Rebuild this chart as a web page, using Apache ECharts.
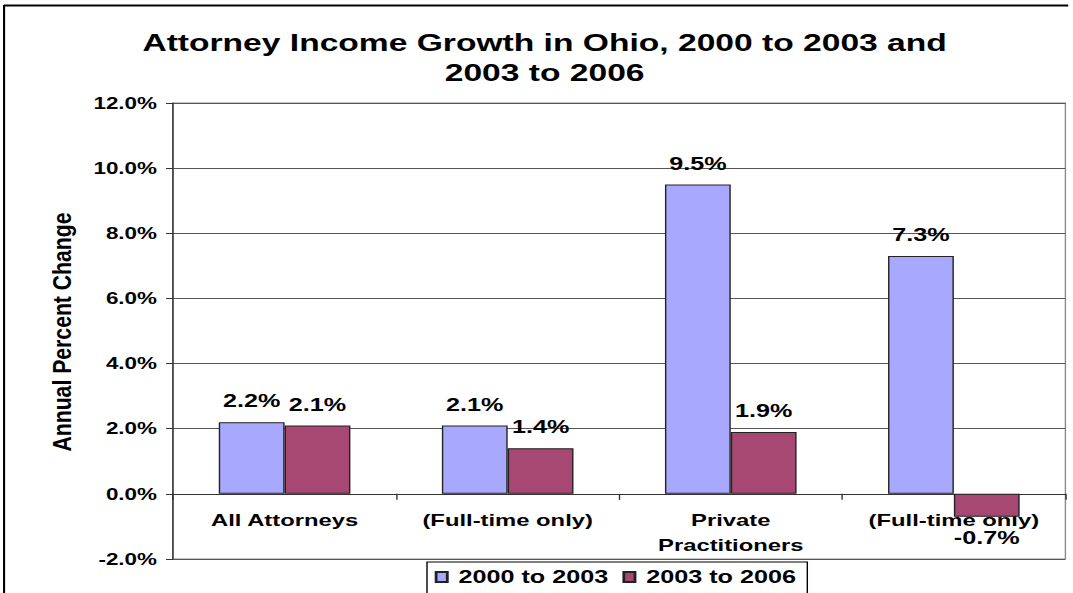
<!DOCTYPE html>
<html>
<head>
<meta charset="utf-8">
<script src="https://cdn.jsdelivr.net/npm/echarts@6/dist/echarts.min.js"></script>
<style>
  html, body { margin: 0; padding: 0; background: #fff; overflow: hidden; }
  /* the chart is laid out narrow and widened horizontally, giving the wide lettering */
  #chart { width: 766.4px; height: 593px; transform: scaleX(1.4); transform-origin: 0 0; }
</style>
</head>
<body>
<div id="chart"></div>
<script>
// Attorney income growth data (annual percent change)
const categories = ['All Attorneys', '(Full-time only)', 'Private\nPractitioners', '(Full-time only)'];
const seriesNames = ['2000 to 2003', '2003 to 2006'];
const growth2000to2003 = [2.2, 2.1, 9.5, 7.3];
const growth2003to2006 = [2.1, 1.4, 1.9, -0.7];
const yTicks = [-2, 0, 2, 4, 6, 8, 10, 12];
const titleLines = ['Attorney Income Growth in Ohio, 2000 to 2003 and', '2003 to 2006'];
const yAxisTitle = 'Annual Percent Change';

const FONT = "'Liberation Sans', Arial, sans-serif";
const pct = v => Number(v).toFixed(1) + '%';

// plot box
const GRID = { left: 123.6, right: 5, top: 103, bottom: 34 };
const CHART_H = 593;
const yMin = yTicks[0], yMax = yTicks[yTicks.length - 1];
// category labels sit just under the zero line rather than under the plot bottom
const plotH = CHART_H - GRID.top - GRID.bottom;
const zeroAboveBottom = (0 - yMin) / (yMax - yMin) * plotH;
const catLabelGap = 13;

const chart = echarts.init(document.getElementById('chart'), null, { renderer: 'svg' });

const barLabel = {
  show: true,
  position: 'outside',
  distance: 12,
  fontFamily: FONT,
  fontWeight: 'bold',
  fontSize: 18,
  color: '#000',
  formatter: p => pct(p.value)
};

chart.setOption({
  animation: false,
  backgroundColor: '#fff',
  graphic: [
    // chart frame (top and left edges)
    { type: 'line', shape: { x1: 2.9, y1: 5.5, x2: 763, y2: 5.5 }, style: { stroke: '#000', lineWidth: 2 }, z: 10 },
    { type: 'line', shape: { x1: 2.9, y1: 5, x2: 2.9, y2: 600 }, style: { stroke: '#000', lineWidth: 1.5 }, z: 10 },
    // title
    {
      type: 'text', x: 389, y: 43,
      style: { text: titleLines[0], font: "bold 24px " + FONT, fill: '#000',
               align: 'center', verticalAlign: 'middle', textAlign: 'center', textVerticalAlign: 'middle' }
    },
    {
      type: 'text', x: 389, y: 73,
      style: { text: titleLines[1], font: "bold 24px " + FONT, fill: '#000',
               align: 'center', verticalAlign: 'middle', textAlign: 'center', textVerticalAlign: 'middle' }
    },
    // value axis title
    {
      type: 'text', x: 44.3, y: 332, rotation: Math.PI / 2, scaleX: 1.06, scaleY: 0.95,
      style: { text: yAxisTitle, font: "bold 20px " + FONT, fill: '#000',
               align: 'center', verticalAlign: 'middle', textAlign: 'center', textVerticalAlign: 'middle' }
    }
  ],
  legend: {
    data: seriesNames,
    left: 305,
    top: 562,
    icon: 'rect',
    itemWidth: 8,
    itemHeight: 10,
    itemGap: 10,
    borderColor: '#000',
    borderWidth: 1,
    backgroundColor: '#fff',
    padding: [6, 8, 10, 5.5],
    textStyle: { fontFamily: FONT, fontWeight: 'bold', fontSize: 18, color: '#000', padding: [0, 0, 0, 3] }
  },
  grid: {
    left: GRID.left,
    right: GRID.right,
    top: GRID.top,
    bottom: GRID.bottom,
    containLabel: false,
    outerBoundsMode: 'none',
    show: true,
    borderColor: '#8c8c8c',
    borderWidth: 1,
    backgroundColor: 'transparent'
  },
  xAxis: {
    type: 'category',
    data: categories,
    axisLine: { onZero: true, lineStyle: { color: '#333', width: 1 } },
    axisTick: { show: true, length: 6, lineStyle: { color: '#333' } },
    axisLabel: {
      interval: 0,
      margin: catLabelGap - zeroAboveBottom,
      fontFamily: FONT,
      fontWeight: 'bold',
      fontSize: 17,
      lineHeight: 25,
      color: '#000'
    },
    splitLine: { show: false }
  },
  yAxis: {
    type: 'value',
    min: yMin,
    max: yMax,
    interval: yTicks[1] - yTicks[0],
    axisLine: { show: true, lineStyle: { color: '#333', width: 1 } },
    axisTick: { show: true, length: 5, lineStyle: { color: '#333' } },
    axisLabel: {
      margin: 11.5,
      fontFamily: FONT,
      fontWeight: 'bold',
      fontSize: 16,
      color: '#000',
      formatter: v => pct(v)
    },
    splitLine: { show: true, lineStyle: { color: '#555', width: 1 } }
  },
  series: [
    {
      name: seriesNames[0],
      type: 'bar',
      data: growth2000to2003,
      barGap: '0%',
      barCategoryGap: '41%',
      itemStyle: { color: '#A8A9FE', borderColor: '#222', borderWidth: 1 },
      label: barLabel
    },
    {
      name: seriesNames[1],
      type: 'bar',
      data: growth2003to2006,
      barGap: '0%',
      barCategoryGap: '41%',
      itemStyle: { color: '#A64872', borderColor: '#222', borderWidth: 1 },
      label: barLabel
    }
  ]
});
</script>
</body>
</html>
